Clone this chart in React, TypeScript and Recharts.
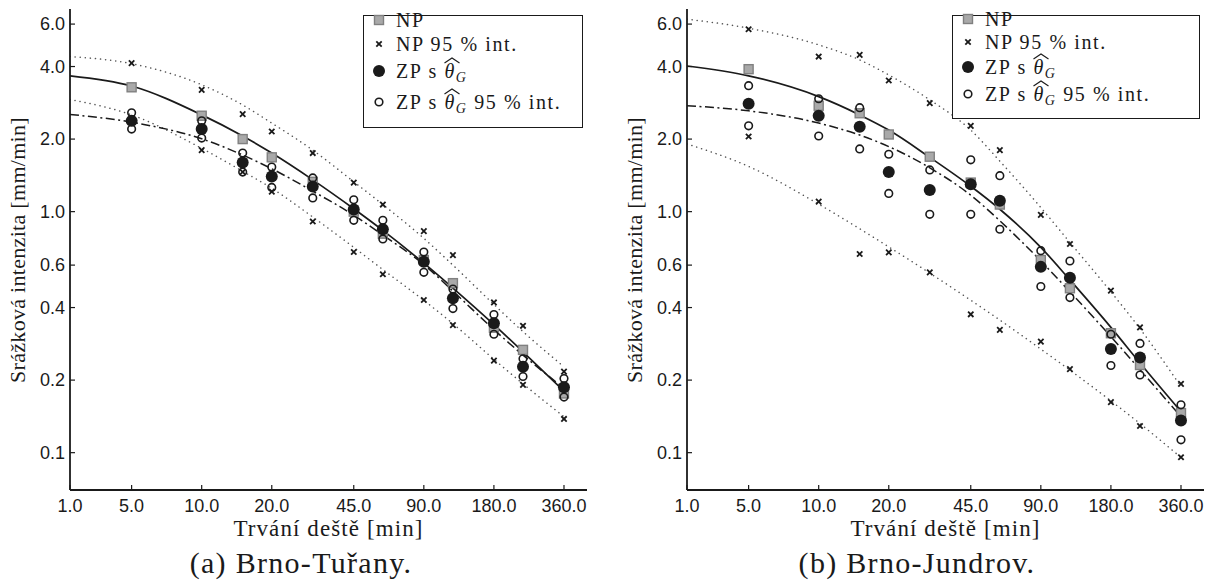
import React from 'react';
import { ComposedChart, Line, Scatter, XAxis, YAxis } from 'recharts';

// ---------- data ----------
const DURATIONS = [5, 10, 15, 20, 30, 45, 60, 90, 120, 180, 240, 360];
const CURVE_DURATIONS = [Math.E, 5, 10, 15, 20, 30, 45, 60, 90, 120, 180, 240, 360];

const X_DOMAIN = [Math.E, 452];
const Y_DOMAIN = [0.07, 6.93];
const X_TICKS = [Math.E, 5, 10, 20, 45, 90, 180, 360];
const X_TICK_LABELS = ['1.0', '5.0', '10.0', '20.0', '45.0', '90.0', '180.0', '360.0'];
const Y_TICKS = [0.1, 0.2, 0.4, 0.6, 1, 2, 4, 6];
const Y_TICK_LABELS = ['0.1', '0.2', '0.4', '0.6', '1.0', '2.0', '4.0', '6.0'];

// Brno-Tuřany
const TUR_NP = [3.28, 2.5, 2.0, 1.68, 1.33, 1.0, 0.81, 0.63, 0.505, 0.33, 0.267, 0.176];
const TUR_NP_UP = [4.13, 3.2, 2.54, 2.15, 1.75, 1.32, 1.07, 0.83, 0.66, 0.42, 0.336, 0.217];
const TUR_NP_LO = [2.36, 1.8, 1.46, 1.21, 0.91, 0.68, 0.55, 0.43, 0.338, 0.241, 0.191, 0.138];
const TUR_ZP = [2.38, 2.2, 1.6, 1.4, 1.27, 1.02, 0.845, 0.62, 0.437, 0.344, 0.227, 0.187];
const TUR_ZP_UP = [2.57, 2.38, 1.75, 1.53, 1.38, 1.12, 0.92, 0.68, 0.477, 0.374, 0.245, 0.203];
const TUR_ZP_LO = [2.2, 2.02, 1.46, 1.26, 1.14, 0.92, 0.77, 0.56, 0.396, 0.31, 0.207, 0.17];
const TUR_FIT = [3.66, 3.32, 2.52, 2.06, 1.75, 1.355, 1.028, 0.836, 0.611, 0.482, 0.34, 0.262, 0.18];
const TUR_FIT_ZP = [2.53, 2.35, 2.005, 1.718, 1.506, 1.216, 0.966, 0.8, 0.603, 0.468, 0.324, 0.254, 0.185];
const TUR_BAND_UP = [4.4, 4.11, 3.36, 2.77, 2.33, 1.8, 1.33, 1.07, 0.775, 0.6, 0.412, 0.318, 0.227];
const TUR_BAND_LO = [2.92, 2.52, 1.83, 1.47, 1.25, 0.95, 0.711, 0.575, 0.4285, 0.343, 0.244, 0.193, 0.141];

// Brno-Jundrov
const JUN_NP = [3.9, 2.75, 2.56, 2.09, 1.69, 1.32, 1.07, 0.63, 0.481, 0.313, 0.231, 0.146];
const JUN_NP_UP = [5.71, 4.4, 4.47, 3.5, 2.82, 2.27, 1.8, 0.97, 0.734, 0.47, 0.331, 0.193];
const JUN_NP_LO = [2.05, 1.1, 0.667, 0.678, 0.56, 0.375, 0.323, 0.289, 0.222, 0.162, 0.129, 0.0957];
const JUN_ZP = [2.8, 2.5, 2.25, 1.46, 1.23, 1.3, 1.11, 0.59, 0.532, 0.269, 0.248, 0.136];
const JUN_ZP_UP = [3.33, 2.94, 2.7, 1.73, 1.49, 1.64, 1.41, 0.689, 0.624, 0.31, 0.284, 0.158];
const JUN_ZP_LO = [2.27, 2.06, 1.82, 1.19, 0.975, 0.975, 0.845, 0.489, 0.44, 0.23, 0.21, 0.113];
const JUN_FIT = [4.02, 3.66, 3.0, 2.52, 2.18, 1.68, 1.274, 1.023, 0.711, 0.521, 0.331, 0.2355, 0.148];
const JUN_FIT_ZP = [2.75, 2.62, 2.33, 2.078, 1.862, 1.52, 1.17, 0.916, 0.624, 0.465, 0.303, 0.221, 0.141];
const JUN_BAND_UP = [6.29, 5.77, 4.92, 4.26, 3.69, 2.91, 2.18, 1.62, 1.04, 0.745, 0.465, 0.327, 0.188];
const JUN_BAND_LO = [1.91, 1.54, 1.074, 0.849, 0.714, 0.556, 0.429, 0.355, 0.269, 0.22, 0.164, 0.132, 0.0955];

const X_TITLE = 'Trvání deště [min]';
const Y_TITLE = 'Srážková intenzita [mm/min]';
const CAPTIONS = ['(a) Brno-Tuřany.', '(b) Brno-Jundrov.'];

// ---------- styling ----------
const SERIF = '"Liberation Serif", "DejaVu Serif", serif';
const SANS = '"Liberation Sans", Arial, sans-serif';
const INK = '#1a1a1a';

const toPts = (xs: number[], ys: number[]) => xs.map((x, i) => ({ x, y: ys[i] }));

const xLabel = (v: number) => {
  const i = X_TICKS.findIndex((t) => Math.abs(t - v) < 1e-6);
  return i >= 0 ? X_TICK_LABELS[i] : String(v);
};
const yLabel = (v: number) => {
  const i = Y_TICKS.findIndex((t) => Math.abs(t - v) < 1e-9);
  return i >= 0 ? Y_TICK_LABELS[i] : String(v);
};

const Square = (p: any) => (
  <rect x={p.cx - 4.5} y={p.cy - 4.5} width={9} height={9} fill="#a9a9a9" stroke="#808080" strokeWidth={1.4} />
);
const Cross = (p: any) => (
  <g stroke={INK} strokeWidth={1.8}>
    <line x1={p.cx - 2.7} y1={p.cy - 2.7} x2={p.cx + 2.7} y2={p.cy + 2.7} />
    <line x1={p.cx - 2.7} y1={p.cy + 2.7} x2={p.cx + 2.7} y2={p.cy - 2.7} />
  </g>
);
const Dot = (p: any) => <circle cx={p.cx} cy={p.cy} r={6} fill={INK} />;
const Ring = (p: any) => <circle cx={p.cx} cy={p.cy} r={3.8} fill="none" stroke={INK} strokeWidth={1.6} />;

const Theta = () => (
  <span style={{ position: 'relative', display: 'inline-block', fontStyle: 'italic' }}>
    <svg
      width={16}
      height={7}
      style={{ position: 'absolute', left: 0, top: -5, overflow: 'visible' }}
    >
      <path d="M0.5 6 L8 1 L15.5 6" fill="none" stroke={INK} strokeWidth={1.1} />
    </svg>
    θ
    <sub style={{ fontSize: 14, fontStyle: 'italic', verticalAlign: -4, lineHeight: '12px' }}>G</sub>
  </span>
);

type LegendBox = { left: number; top: number; width: number; height: number; rows: number[] };

function Legend({ box }: { box: LegendBox }) {
  const icons = [
    <svg width={14} height={14} key="a"><Square cx={7} cy={7} /></svg>,
    <svg width={14} height={14} key="b"><Cross cx={7} cy={7} /></svg>,
    <svg width={14} height={14} key="c"><Dot cx={7} cy={7} /></svg>,
    <svg width={14} height={14} key="d"><Ring cx={7} cy={7} /></svg>,
  ];
  const texts = [
    <span>NP</span>,
    <span>NP 95 % int.</span>,
    <span>ZP s <Theta /></span>,
    <span>ZP s <Theta /> 95 % int.</span>,
  ];
  return (
    <div
      style={{
        position: 'absolute',
        left: box.left,
        top: box.top,
        width: box.width,
        height: box.height,
        border: `1.6px solid ${INK}`,
        background: '#fff',
        boxSizing: 'border-box',
      }}
    >
      {texts.map((t, i) => (
        <div key={i}>
          <div style={{ position: 'absolute', left: 8, top: box.rows[i] - box.top - 8 }}>{icons[i]}</div>
          <div
            style={{
              position: 'absolute',
              left: 32,
              top: box.rows[i] - box.top - 10,
              height: 18,
              fontFamily: SERIF,
              fontSize: 20,
              letterSpacing: 1.6,
              lineHeight: '18px',
              color: INK,
              whiteSpace: 'nowrap',
            }}
          >
            {t}
          </div>
        </div>
      ))}
    </div>
  );
}

type PanelProps = {
  left: number;
  width: number;
  rightMargin: number;
  np: number[];
  npUp: number[];
  npLo: number[];
  zp: number[];
  zpUp: number[];
  zpLo: number[];
  fit: number[];
  fitZp: number[];
  bandUp: number[];
  bandLo: number[];
  caption: string;
  captionCenter: number;
  legend: LegendBox;
};

const axisStroke = { stroke: INK, strokeWidth: 1.8 };
const tickStroke = { stroke: INK, strokeWidth: 1.2 };
const tickFont = { fill: INK, fontSize: 18, fontFamily: SANS };

function Panel(p: PanelProps) {
  const plotLeft = 70;
  const plotRight = p.width - p.rightMargin;
  const plotCenter = (plotLeft + plotRight) / 2;
  return (
    <div style={{ position: 'absolute', left: p.left, top: 0, width: p.width, height: 581 }}>
      <ComposedChart width={p.width} height={520} margin={{ top: 9, right: p.rightMargin, bottom: 0, left: 10 }}>
        <XAxis
          type="number"
          dataKey="x"
          scale="log"
          domain={X_DOMAIN}
          allowDataOverflow
          ticks={X_TICKS}
          interval={0}
          tickFormatter={xLabel}
          height={30}
          tickSize={-5}
          tickMargin={14}
          axisLine={axisStroke}
          tickLine={tickStroke}
          tick={tickFont}
        />
        <XAxis
          xAxisId="top"
          orientation="top"
          type="number"
          dataKey="x"
          scale="log"
          domain={X_DOMAIN}
          allowDataOverflow
          ticks={X_TICKS}
          interval={0}
          height={0}
          tick={false}
          tickSize={-5}
          axisLine={axisStroke}
          tickLine={tickStroke}
        />
        <YAxis
          type="number"
          scale="log"
          domain={Y_DOMAIN}
          allowDataOverflow
          ticks={Y_TICKS}
          interval={0}
          tickFormatter={yLabel}
          width={60}
          tickSize={-5}
          tickMargin={10}
          axisLine={axisStroke}
          tickLine={tickStroke}
          tick={tickFont}
        />
        <YAxis
          yAxisId="right"
          orientation="right"
          type="number"
          scale="log"
          domain={Y_DOMAIN}
          allowDataOverflow
          ticks={Y_TICKS}
          interval={0}
          width={0}
          tick={false}
          tickSize={-5}
          axisLine={axisStroke}
          tickLine={tickStroke}
        />
        <Line data={toPts(CURVE_DURATIONS, p.bandUp)} dataKey="y" type="monotone" stroke="#555" strokeWidth={1.5}
          strokeDasharray="0.1 5" strokeLinecap="round" dot={false} isAnimationActive={false} />
        <Line data={toPts(CURVE_DURATIONS, p.bandLo)} dataKey="y" type="monotone" stroke="#555" strokeWidth={1.5}
          strokeDasharray="0.1 5" strokeLinecap="round" dot={false} isAnimationActive={false} />
        <Line data={toPts(CURVE_DURATIONS, p.fitZp)} dataKey="y" type="monotone" stroke={INK} strokeWidth={1.5}
          strokeDasharray="9 3.5 2 3.5" dot={false} isAnimationActive={false} />
        <Line data={toPts(CURVE_DURATIONS, p.fit)} dataKey="y" type="monotone" stroke={INK} strokeWidth={1.7}
          dot={false} isAnimationActive={false} />
        <Scatter data={toPts(DURATIONS, p.np)} dataKey="y" shape={Square} isAnimationActive={false} />
        <Scatter data={toPts(DURATIONS, p.npUp)} dataKey="y" shape={Cross} isAnimationActive={false} />
        <Scatter data={toPts(DURATIONS, p.npLo)} dataKey="y" shape={Cross} isAnimationActive={false} />
        <Scatter data={toPts(DURATIONS, p.zp)} dataKey="y" shape={Dot} isAnimationActive={false} />
        <Scatter data={toPts(DURATIONS, p.zpUp)} dataKey="y" shape={Ring} isAnimationActive={false} />
        <Scatter data={toPts(DURATIONS, p.zpLo)} dataKey="y" shape={Ring} isAnimationActive={false} />
      </ComposedChart>
      <div
        style={{
          position: 'absolute',
          left: 18,
          top: 249.5,
          transform: 'translate(-50%, -50%) rotate(-90deg)',
          fontFamily: SERIF,
          fontSize: 22,
          letterSpacing: 0.3,
          color: INK,
          whiteSpace: 'nowrap',
        }}
      >
        {Y_TITLE}
      </div>
      <div
        style={{
          position: 'absolute',
          left: plotCenter,
          top: 529,
          transform: 'translate(-50%, -50%)',
          fontFamily: SERIF,
          fontSize: 23,
          letterSpacing: 1.1,
          color: INK,
          whiteSpace: 'nowrap',
        }}
      >
        {X_TITLE}
      </div>
      <div
        style={{
          position: 'absolute',
          left: p.captionCenter - p.left,
          top: 563,
          transform: 'translate(-50%, -50%)',
          fontFamily: SERIF,
          fontSize: 30,
          letterSpacing: 1.3,
          color: INK,
          whiteSpace: 'nowrap',
        }}
      >
        {p.caption}
      </div>
      <Legend box={{ ...p.legend, left: p.legend.left - p.left }} />
    </div>
  );
}

export default function App() {
  return (
    <div style={{ position: 'absolute', left: 0, top: 0, width: 1211, height: 581, overflow: 'hidden', background: '#fff' }}>
      <Panel
        left={0}
        width={600}
        rightMargin={13}
        np={TUR_NP}
        npUp={TUR_NP_UP}
        npLo={TUR_NP_LO}
        zp={TUR_ZP}
        zpUp={TUR_ZP_UP}
        zpLo={TUR_ZP_LO}
        fit={TUR_FIT}
        fitZp={TUR_FIT_ZP}
        bandUp={TUR_BAND_UP}
        bandLo={TUR_BAND_LO}
        caption={CAPTIONS[0]}
        captionCenter={301}
        legend={{ left: 363, top: 15, width: 220, height: 113, rows: [20, 44, 71, 102] }}
      />
      <Panel
        left={617}
        width={594}
        rightMargin={7}
        np={JUN_NP}
        npUp={JUN_NP_UP}
        npLo={JUN_NP_LO}
        zp={JUN_ZP}
        zpUp={JUN_ZP_UP}
        zpLo={JUN_ZP_LO}
        fit={JUN_FIT}
        fitZp={JUN_FIT_ZP}
        bandUp={JUN_BAND_UP}
        bandLo={JUN_BAND_LO}
        caption={CAPTIONS[1]}
        captionCenter={917}
        legend={{ left: 952, top: 15, width: 248, height: 104, rows: [19, 42, 67, 94] }}
      />
    </div>
  );
}
